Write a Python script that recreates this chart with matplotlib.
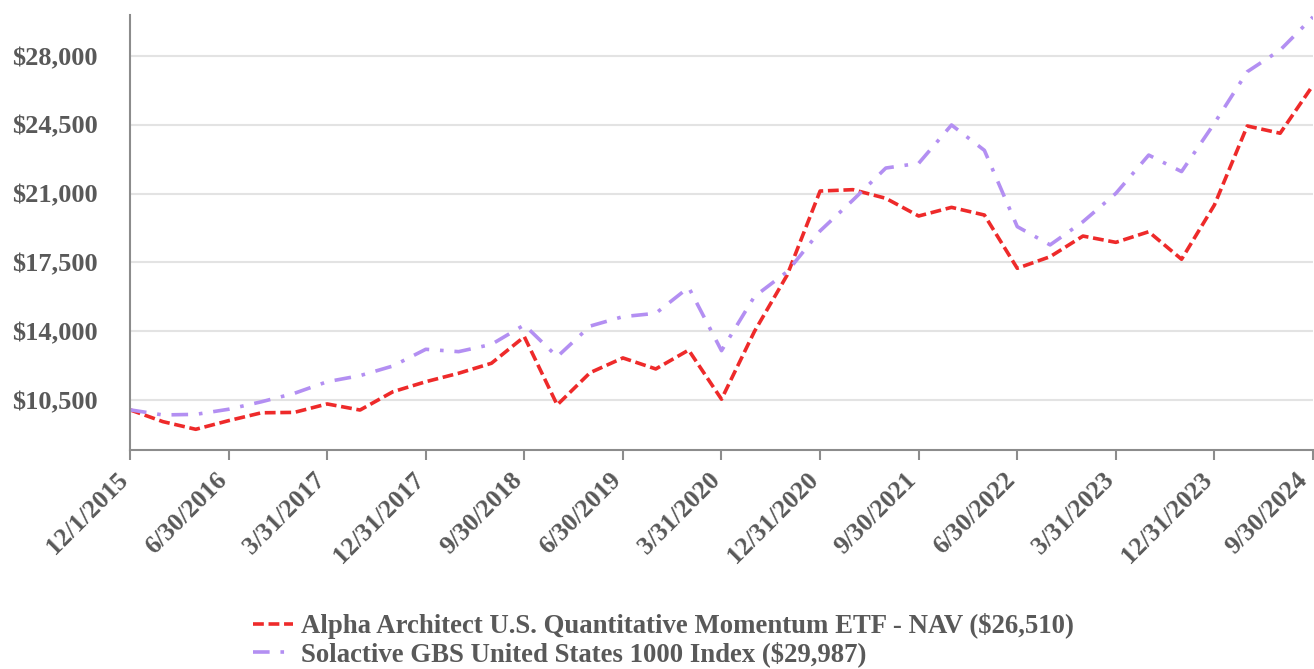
import matplotlib
matplotlib.use('Agg')
import matplotlib.pyplot as plt
import matplotlib.transforms as mtransforms
from matplotlib.ticker import FuncFormatter

# quarter-end dates (first point is the fund inception)
dates = ['12/1/2015', '12/31/2015', '3/31/2016', '6/30/2016', '9/30/2016', '12/31/2016',
         '3/31/2017', '6/30/2017', '9/30/2017', '12/31/2017', '3/31/2018', '6/30/2018',
         '9/30/2018', '12/31/2018', '3/31/2019', '6/30/2019', '9/30/2019', '12/31/2019',
         '3/31/2020', '6/30/2020', '9/30/2020', '12/31/2020', '3/31/2021', '6/30/2021',
         '9/30/2021', '12/31/2021', '3/31/2022', '6/30/2022', '9/30/2022', '12/31/2022',
         '3/31/2023', '6/30/2023', '9/30/2023', '12/31/2023', '3/31/2024', '6/30/2024',
         '9/30/2024']

fund_nav = [10000, 9400, 9010, 9450, 9850, 9870, 10300, 9990, 10920, 11430, 11860, 12370,
            13720, 10250, 11890, 12640, 12080, 13040, 10540, 13980, 16860, 21130, 21200,
            20760, 19860, 20300, 19910, 17200, 17790, 18840, 18520, 19060, 17660, 20420,
            24440, 24070, 26510]

index_vals = [10000, 9740, 9770, 10030, 10410, 10840, 11430, 11740, 12230, 13080, 12960, 13330,
              14320, 12700, 14260, 14740, 14910, 16230, 13010, 15760, 17030, 19100, 20670,
              22300, 22540, 24490, 23200, 19320, 18390, 19570, 21010, 22960, 22120, 24580,
              27200, 28300, 29987]

fund_label = 'Alpha Architect U.S. Quantitative Momentum ETF - NAV ($26,510)'
index_label = 'Solactive GBS United States 1000 Index ($29,987)'

yticks = [10500, 14000, 17500, 21000, 24500, 28000]

txt_color = '#595959'
plt.rcParams['font.family'] = ['Liberation Serif', 'DejaVu Serif']
plt.rcParams['font.weight'] = 'bold'

fig = plt.figure(figsize=(13.14, 6.69), dpi=100)
ax = fig.add_axes([130 / 1314, 1 - 450 / 669, 1183 / 1314, 435 / 669])

x = list(range(len(dates)))
ax.plot(x, fund_nav, color='#ee2a2a', lw=2.6, linestyle=(0, (3, 1.3)), label=fund_label)
ax.plot(x, index_vals, color='#b38ff2', lw=2.6, linestyle=(0, (4.6, 3, 1, 3)), label=index_label)

ax.set_xlim(0, len(dates) - 1)
ax.set_ylim(7957, 30085)
ax.set_yticks(yticks)
ax.yaxis.set_major_formatter(FuncFormatter(lambda v, p: f'${v:,.0f}'))
ax.grid(axis='y', color='#e3e3e3', lw=1.5)
ax.set_axisbelow(True)

tick_pos = x[::3]
ax.set_xticks(tick_pos)
ax.set_xticklabels([dates[i] for i in tick_pos], rotation=45, ha='right', va='center',
                   rotation_mode='anchor')

for s in ['top', 'right']:
    ax.spines[s].set_visible(False)
for s in ['left', 'bottom']:
    ax.spines[s].set_color('#8c8c8c')
    ax.spines[s].set_linewidth(1.5)

ax.tick_params(axis='y', length=0, pad=23, labelsize=19, labelcolor=txt_color)
ax.tick_params(axis='x', length=7.2, width=1.5, color='#8c8c8c', pad=12, labelsize=18.5,
               labelcolor=txt_color)

fig.legend(loc='upper left', bbox_to_anchor=(253 / 1314, 1 - 613 / 669), frameon=False,
           fontsize=19.3, labelcolor=txt_color, handlelength=1.5, handletextpad=0.3,
           borderpad=0, borderaxespad=0, labelspacing=0.1)

# draw once so the ticks exist, then nudge the rotated labels left a little
fig.canvas.draw()
labels = ax.get_xticklabels()
for k, lab in enumerate(labels):
    dx = -7 if k == len(labels) - 1 else -4
    shift = mtransforms.ScaledTranslation(dx / 72, 0, fig.dpi_scale_trans)
    lab.set_transform(lab.get_transform() + shift)

fig.savefig('out.png', dpi=100)
